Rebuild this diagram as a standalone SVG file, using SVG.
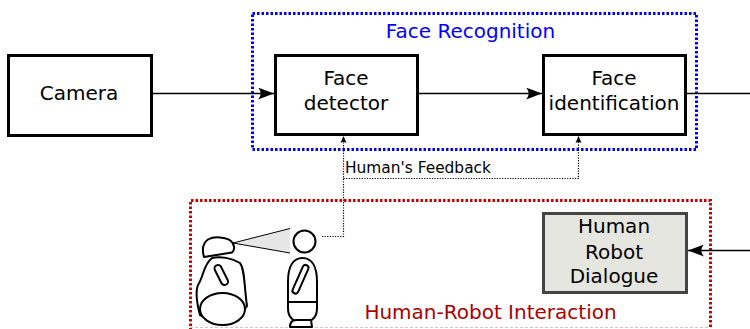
<svg xmlns="http://www.w3.org/2000/svg" width="750" height="329" viewBox="0 0 750 329">
  <style>
    text { font-family: "DejaVu Sans", "Liberation Sans", sans-serif; fill: #000; }
    .box { fill: #fff; stroke: #000; stroke-width: 3; }
    .lbl { font-size: 20px; text-anchor: middle; }
    .flow { stroke: #000; stroke-width: 1.5; fill: none; }
    .fb { stroke: #000; stroke-width: 1.2; stroke-dasharray: 1.2 1.4; fill: none; }
    .fig { fill: #fff; stroke: #000; stroke-width: 2; stroke-linejoin: round; }
  </style>
  <defs>
    <marker id="arr" viewBox="-16 -6 17 12" markerWidth="17" markerHeight="12" refX="0" refY="0" orient="auto" markerUnits="userSpaceOnUse">
      <path d="M0,0 L-16,-6 C-12.5,-2 -12.5,2 -16,6 Z" fill="#000"/>
    </marker>
    <marker id="arrs" viewBox="-7 -4 8 8" markerWidth="8" markerHeight="8" refX="0" refY="0" orient="auto" markerUnits="userSpaceOnUse">
      <path d="M0,0 L-7,-3 C-5.5,-1 -5.5,1 -7,3 Z" fill="#000"/>
    </marker>
  </defs>

  <!-- grouping frames -->
  <g id="face-recognition">
    <rect x="252.5" y="13.5" width="444" height="136" fill="none" stroke="#0000ff" stroke-width="3" stroke-dasharray="2.5 2"/>
    <text x="470.5" y="37.5" font-size="20" text-anchor="middle" style="fill:#0000ff">Face Recognition</text>
  </g>
  <g id="human-robot-interaction">
    <path d="M190.5,335 V200.5 H710.5 V335" fill="none" stroke="#cc0000" stroke-width="3" stroke-dasharray="2.5 2"/>
    <line x1="190" y1="327.5" x2="711" y2="327.5" stroke="#f0b8c0" stroke-width="1" stroke-dasharray="3 2"/>
    <text x="490.5" y="319" font-size="20" text-anchor="middle" style="fill:#aa0000">Human-Robot Interaction</text>
  </g>

  <!-- nodes -->
  <g id="camera">
    <rect class="box" x="8.5" y="55.5" width="143" height="80"/>
    <text class="lbl" x="79" y="100">Camera</text>
  </g>
  <g id="face-detector">
    <rect class="box" x="275.5" y="55.5" width="142" height="79"/>
    <text class="lbl" x="346" y="85">Face</text>
    <text class="lbl" x="346" y="110">detector</text>
  </g>
  <g id="face-identification">
    <rect class="box" x="543.5" y="55.5" width="142" height="79"/>
    <text class="lbl" x="614" y="85">Face</text>
    <text class="lbl" x="614" y="110">identification</text>
  </g>
  <g id="human-robot-dialogue">
    <rect x="543.5" y="213.5" width="143" height="79" fill="#e6e6e0" stroke="#444" stroke-width="3"/>
    <text class="lbl" x="614" y="233">Human</text>
    <text class="lbl" x="614" y="259">Robot</text>
    <text class="lbl" x="614" y="283">Dialogue</text>
  </g>

  <!-- robot and person -->
  <g id="robot">
    <path d="M233,243 L290,228.5 L290,253 Z" fill="#e6e6e6" stroke="none"/>
    <path d="M290,228.5 L233,243 L290,253" fill="none" stroke="#000" stroke-width="1"/>
    <path class="fig" d="M212,258 C220,256 232,258 240,263 C245,270 244,285 247,306 C240,318 215,323 200,315 C196,300 196,290 198,285 C204,276 203,265 212,258 Z"/>
    <ellipse class="fig" cx="222.5" cy="309" rx="22.5" ry="16"/>
    <line x1="218" y1="268.5" x2="224.5" y2="281.5" stroke="#000" stroke-width="9" stroke-linecap="round"/>
    <line x1="218" y1="268.5" x2="224.5" y2="281.5" stroke="#fff" stroke-width="5" stroke-linecap="round"/>
    <path class="fig" d="M204,257 C202,250 203,243 208,239.5 C214,236 226,237 231,241 C235,245 235,250 232,252.5 Z"/>
  </g>
  <g id="person">
    <circle class="fig" cx="304.5" cy="241.5" r="11"/>
    <path class="fig" d="M302.5,258 C312,258 317,267 317,282 L317,308 C317,318 312,322 302.5,322 C293,322 288,318 288,308 L288,282 C288,267 293,258 302.5,258 Z"/>
    <line x1="288" y1="302" x2="317" y2="302" stroke="#000" stroke-width="2"/>
    <line x1="305.5" y1="268" x2="295.5" y2="290.5" stroke="#000" stroke-width="8" stroke-linecap="round"/>
    <line x1="305.5" y1="268" x2="295.5" y2="290.5" stroke="#fff" stroke-width="4" stroke-linecap="round"/>
    <path class="fig" d="M296,320 L311,320 L312,327 L290,327 C290,323 292,320 296,320 Z"/>
  </g>

  <!-- connectors -->
  <g id="connectors">
    <line class="flow" x1="152" y1="93.5" x2="274" y2="93.5" marker-end="url(#arr)"/>
    <line class="flow" x1="418" y1="93.5" x2="542" y2="93.5" marker-end="url(#arr)"/>
    <line class="flow" x1="686" y1="93.5" x2="750" y2="93.5"/>
    <line class="flow" x1="750" y1="250.5" x2="688" y2="250.5" marker-end="url(#arr)"/>
    <path class="fb" d="M322,236.5 H343.5 V136" marker-end="url(#arrs)"/>
    <path class="fb" d="M343.5,178.5 H578.5 V136" marker-end="url(#arrs)"/>
    <text x="345" y="173" font-size="15.4">Human's Feedback</text>
  </g>
</svg>
